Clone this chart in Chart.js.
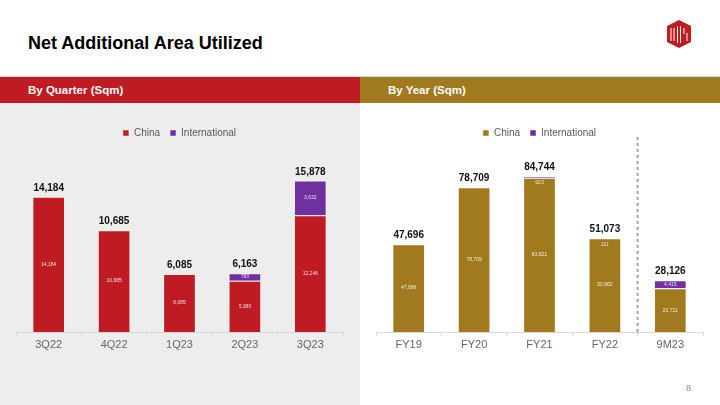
<!DOCTYPE html>
<html>
<head>
<meta charset="utf-8">
<script src="https://cdn.jsdelivr.net/npm/chart.js@4"></script>
<style>
  body { margin: 0; width: 720px; height: 405px; position: relative; overflow: hidden; background: #fff; font-family: Arial, "Liberation Sans", sans-serif; }
  .title { position: absolute; left: 28px; top: 33px; font-size: 18px; font-weight: bold; color: #000; }
  .topline { position: absolute; left: 0; top: 76px; width: 720px; height: 1px; background: #d6d6d6; }
  .band { position: absolute; top: 77px; height: 26px; width: 360px; color: #fff; font-weight: bold; font-size: 11.5px; line-height: 26px; box-sizing: border-box; padding-left: 28px; }
  .band.left { left: 0; background: #be1b23; }
  .band.right { left: 360px; background: #a17a1f; }
  .panel { position: absolute; top: 103px; width: 360px; height: 302px; }
  .panel.left { left: 0; background: #ededed; }
  .panel.right { left: 360px; background: #fff; }
  .pagenum { position: absolute; left: 686px; top: 383px; font-size: 9px; color: #8c8c8c; }
  .logo { position: absolute; left: 667px; top: 20px; }
</style>
</head>
<body>
<div class="title">Net Additional Area Utilized</div>
<svg class="logo" width="24" height="28" viewBox="0 0 24 28">
  <polygon points="12,0 24,6 24,22 12,28 0,22 0,6" fill="#be1b23"/>
  <path d="M4 8 V21 M7 8 V21 M10.5 6 V23 M13.5 6 V23 M17 8 V14 M20 13 V21" stroke="#fff" stroke-width="1" fill="none"/>
</svg>
<div class="topline"></div>
<div class="band left">By Quarter (Sqm)</div>
<div class="band right">By Year (Sqm)</div>
<div class="panel left"><canvas id="quarterChart"></canvas></div>
<div class="panel right"><canvas id="yearChart"></canvas></div>
<div class="pagenum">8</div>

<script>
const quarterLabels = ['3Q22', '4Q22', '1Q23', '2Q23', '3Q23'];
const quarterChina = [14184, 10685, 6085, 5380, 12246];
const quarterIntl = [0, 0, 0, 783, 3632];

const yearLabels = ['FY19', 'FY20', 'FY21', 'FY22', '9M23'];
const yearChina = [47696, 78709, 83821, 50962, 23711];
const yearIntl = [0, 0, 923, 111, 4415];

const RED = '#be1b23';
const GOLD = '#a17a1f';
const PURPLE = '#7030a0';

function fmt(n) {
  return n.toLocaleString('en-US');
}

// Segment values inside the bars and totals above them
const barLabels = {
  id: 'barLabels',
  afterDatasetsDraw(chart) {
    const ctx = chart.ctx;
    const metas = chart.data.datasets.map((d, i) => chart.getDatasetMeta(i));
    ctx.save();
    ctx.textAlign = 'center';
    ctx.textBaseline = 'middle';
    ctx.font = '5px Arial, "Liberation Sans", sans-serif';
    ctx.fillStyle = 'rgba(255,255,255,0.85)';
    metas.forEach((meta, di) => {
      meta.data.forEach((bar, i) => {
        const v = chart.data.datasets[di].data[i];
        if (!v) return;
        const top = Math.min(bar.y, bar.base);
        const h = Math.abs(bar.base - bar.y);
        const y = h < 5 ? top + 7 : top + h / 2;
        ctx.fillText(fmt(v), bar.x, y);
      });
    });
    ctx.font = 'bold 10px Arial, "Liberation Sans", sans-serif';
    ctx.fillStyle = '#111';
    ctx.textBaseline = 'alphabetic';
    const last = metas[metas.length - 1];
    last.data.forEach((bar, i) => {
      const total = chart.data.datasets.reduce((s, d) => s + (d.data[i] || 0), 0);
      const top = Math.min(...metas.map(m => m.data[i].y));
      ctx.fillText(fmt(total), bar.x, top - 6);
    });
    ctx.restore();
  }
};

// Dotted divider between full years and 9M23
const divider = {
  id: 'divider',
  afterDraw(chart, args, opts) {
    if (!opts.after && opts.after !== 0) return;
    const x = chart.scales.x;
    const px = (x.getPixelForValue(opts.after) + x.getPixelForValue(opts.after + 1)) / 2;
    const ctx = chart.ctx;
    ctx.save();
    ctx.strokeStyle = '#a6a6a6';
    ctx.lineWidth = 2;
    ctx.setLineDash([3, 3]);
    ctx.beginPath();
    ctx.moveTo(px, chart.chartArea.top - 11);
    ctx.lineTo(px, chart.chartArea.bottom + 3);
    ctx.stroke();
    ctx.restore();
  }
};

function makeChart(id, labels, china, intl, chinaColor, yMax, dividerAfter) {
  return new Chart(document.getElementById(id), {
    type: 'bar',
    data: {
      labels,
      datasets: [
        { label: 'China', data: china, backgroundColor: chinaColor, borderColor: 'rgba(255,255,255,0.45)', borderWidth: 1, borderSkipped: 'bottom' },
        { label: 'International', data: intl, backgroundColor: PURPLE, borderColor: 'rgba(255,255,255,0.45)', borderWidth: 1, borderSkipped: 'bottom' }
      ]
    },
    options: {
      responsive: true,
      maintainAspectRatio: false,
      animation: false,
      datasets: { bar: { categoryPercentage: 1, barPercentage: 0.5 } },
      layout: { padding: { left: 16, right: 17, top: 15, bottom: 0 } },
      scales: {
        x: {
          stacked: true,
          grid: { drawOnChartArea: false, drawTicks: true, tickLength: 4, color: '#d9d9d9' },
          border: { color: '#d9d9d9' },
          ticks: { color: '#666', padding: 2, font: { size: 11, family: 'Arial, "Liberation Sans", sans-serif' } },
          afterFit(scale) { scale.height = 73; }
        },
        y: { stacked: true, display: false, min: 0, max: yMax }
      },
      plugins: {
        legend: {
          position: 'top',
          labels: { boxWidth: 6, boxHeight: 6, padding: 10, color: '#595959', font: { size: 10, family: 'Arial, "Liberation Sans", sans-serif' } }
        },
        tooltip: { enabled: false },
        divider: { after: dividerAfter }
      }
    },
    plugins: [barLabels, divider]
  });
}

makeChart('quarterChart', quarterLabels, quarterChina, quarterIntl, RED, 19300, null);
makeChart('yearChart', yearLabels, yearChina, yearIntl, GOLD, 100000, 3);
</script>
</body>
</html>
